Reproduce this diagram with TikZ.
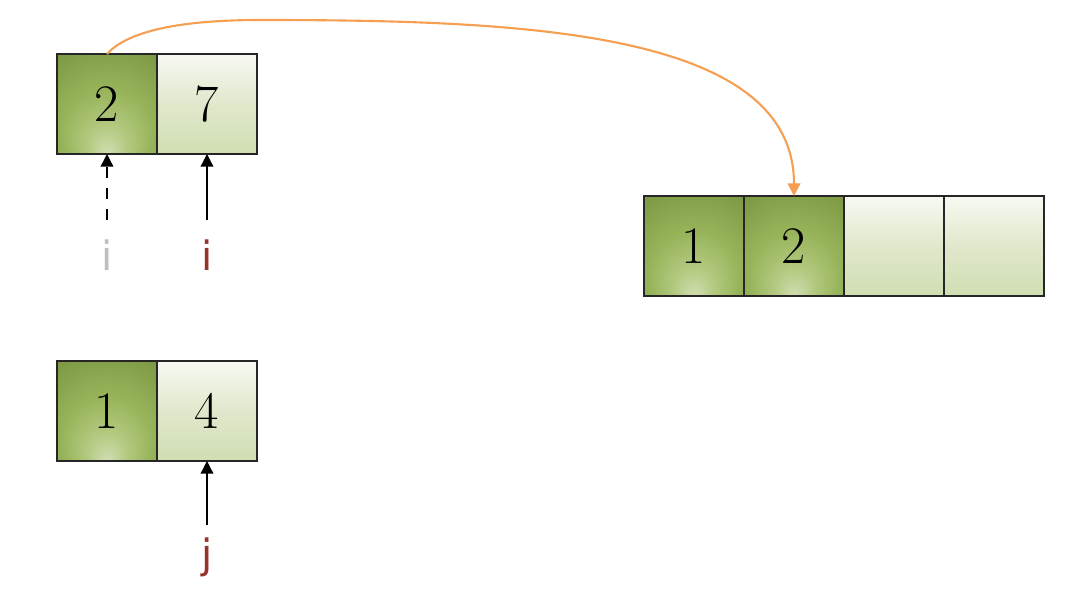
\documentclass[tikz,border=0pt]{standalone}
\usepackage{fontspec}
\newfontfamily\labelfont{DejaVu Sans}
\usetikzlibrary{arrows.meta, positioning}
\definecolor{ptrred}{RGB}{150,52,42}
\definecolor{ptrgray}{RGB}{190,190,190}
\definecolor{mergeorange}{RGB}{246,158,82}
\definecolor{cellTop}{RGB}{247,249,242}
\definecolor{cellMid}{RGB}{224,232,204}
\definecolor{cellBot}{RGB}{208,222,178}
\pgfdeclareradialshading{cellglow}{\pgfpoint{0bp}{-25bp}}{rgb(0bp)=(0.82,0.87,0.70); rgb(10bp)=(0.70,0.79,0.50); rgb(22bp)=(0.60,0.71,0.36); rgb(35bp)=(0.52,0.63,0.29); rgb(50bp)=(0.44,0.55,0.24); rgb(60bp)=(0.40,0.50,0.21)}

\begin{document}
\begin{tikzpicture}[node distance=0pt, auto,
    cell/.style={rectangle, draw=black!85, line width=0.5pt, minimum size=1cm, inner sep=0pt, outer sep=0pt, font=\fontsize{15pt}{18pt}\selectfont},
    done/.style={cell, shading=cellglow},
    todo/.style={cell, top color=cellTop, bottom color=cellBot, middle color=cellMid},
    ptr/.style={font=\labelfont\fontsize{11.5pt}{14pt}\selectfont},
    line/.style={draw, -{Triangle[length=3.6pt, width=3.6pt]}},
    merge/.style={draw=mergeorange, line width=0.6pt, -{Triangle[length=3.6pt, width=3.6pt]}}]
    \useasboundingbox (0,0) rectangle (10.8,5.91);
    \node [done] (top1) at (1.07,4.87) {2};
    \node [todo, right=of top1] (top2) {7};
    \node [done, below=2.07cm of top1] (bot1) {1};
    \node [todo, right=of bot1] (bot2) {4};
    \node [done, below right=0.42cm and 3.87cm of top2] (out1) {1};
    \node [done, right=of out1] (out2) {2};
    \node [todo, right=of out2] (out3) {};
    \node [todo, right=of out3] (out4) {};
    \node [ptr, text=ptrgray, below=0.73cm of top1] (iold) {i};
    \node [ptr, text=ptrred, below=0.73cm of top2] (inew) {i};
    \node [ptr, text=ptrred, below=0.64cm of bot2] (jnew) {j};
    \coordinate (flat) at (2.60,5.71);
    \path [line, dashed, shorten <=0.07cm] (iold) -- (top1);
    \path [line, shorten <=0.07cm] (inew) -- (top2);
    \path [line] (jnew) -- (bot2);
    \path [merge] (top1.north) .. controls +(0.18,0.20) and +(-0.9,0) .. (flat) .. controls +(2.6,0) and +(0,1.66) .. (out2.north);
\end{tikzpicture}
\end{document}
